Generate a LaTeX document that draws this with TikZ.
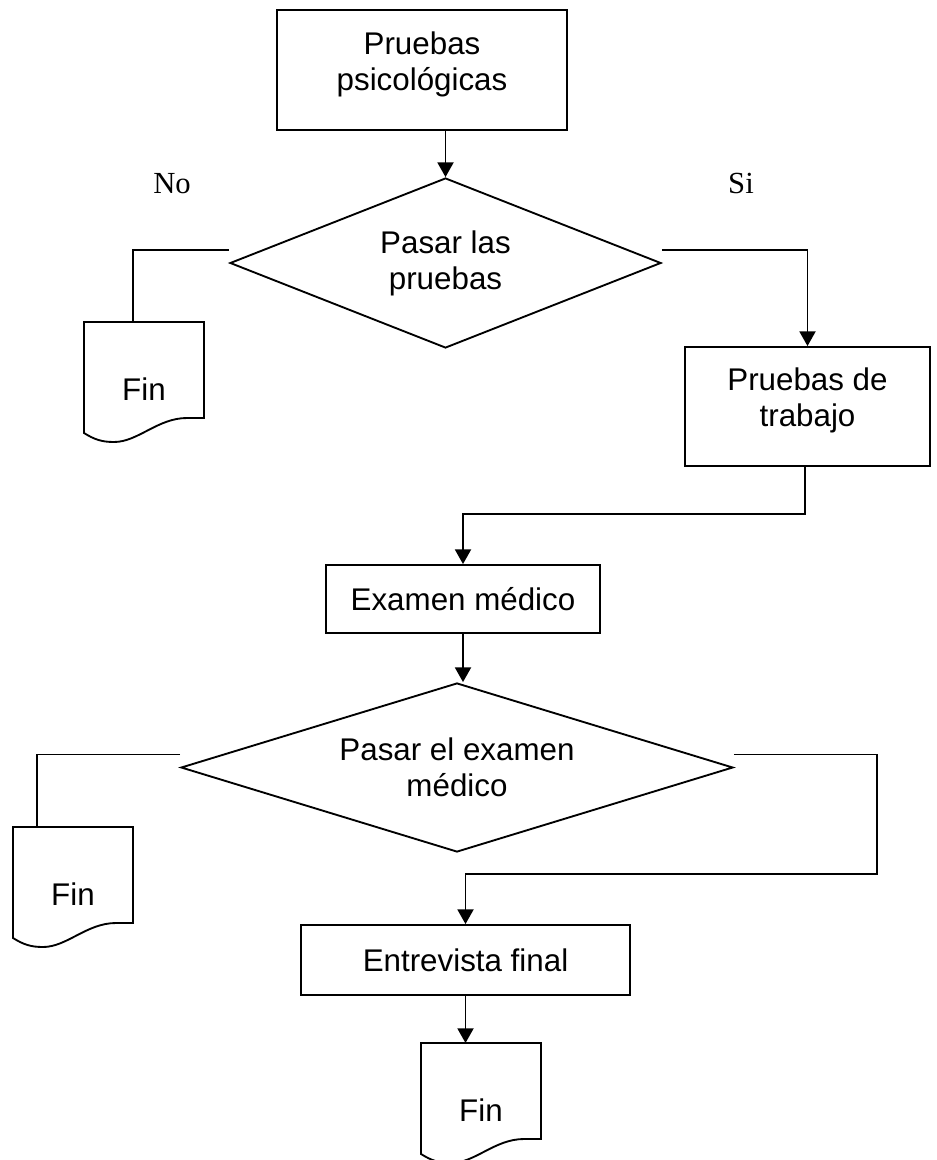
\documentclass[tikz,border=0pt]{standalone}
\usepackage{fontspec}
\setmainfont{Liberation Sans}
\newfontfamily\tnrfont{Liberation Serif}
\usetikzlibrary{arrows.meta,shapes.geometric,calc}
\newcommand\docpath[1]{\draw (#1.south east) -- (#1.north east) -- (#1.north west) -- ([yshift=-11.25pt]#1.south west) .. controls +(8pt,-5pt) and +(-9pt,0pt) .. ([shift={(22.5pt,-18pt)}]#1.south west) .. controls +(18pt,0pt) and +(-22pt,0pt) .. ([xshift=77.25pt]#1.south west) -- cycle;}
\begin{document}
\begin{tikzpicture}[x=0.75pt,y=-0.75pt, line width=1.4pt,
  every node/.style={font=\fontsize{23.5}{27}\selectfont},
  box/.style={draw, rectangle, inner sep=0pt},
  dec/.style={draw, diamond, inner sep=0pt, align=center, aspect=2.5},
  txt/.style={align=center, inner sep=0pt},
  arr/.style={-{Triangle[length=11pt,width=12pt]}},
  lbl/.style={font=\tnrfont\fontsize{23}{27}\selectfont, anchor=base, inner sep=0pt},
  docbox/.style={rectangle, minimum width=90pt, minimum height=72pt, inner sep=0pt, outer sep=0pt}]
\path[use as bounding box, fill=white] (0,0) rectangle (936,1160);
% nodes
\node[box, minimum width=217.5pt, minimum height=90pt] (b1) at (422,70) {};
\node[txt] (t1) at (422,64) {Pruebas\\psicológicas};
\node[dec, minimum width=323.25pt, minimum height=127.5pt] (d1) at (445.5,263) {Pasar las\\pruebas};
\node[lbl] (no) at (172,193) {No};
\node[lbl] (si) at (741,193) {Si};
\node[docbox] (f1) at (144,370) {};
\node[txt] (f1t) at (144,389) {Fin};
\node[box, minimum width=183.75pt, minimum height=89.25pt] (b2) at (807.5,406.5) {};
\node[txt] (t2) at (807.5,400) {Pruebas de\\trabajo};
\node[box, minimum width=205.5pt, minimum height=51pt] (b3) at (463,599) {Examen médico};
\node[dec, minimum width=414pt, minimum height=126.75pt] (d2) at (457,767.5) {Pasar el examen\\médico};
\node[docbox] (f2) at (73,875) {};
\node[txt] (f2t) at (73,894) {Fin};
\node[box, minimum width=246.75pt, minimum height=52.5pt] (b4) at (465.5,960) {Entrevista final};
\node[docbox] (f3) at (481,1091) {};
\node[txt] (f3t) at (481,1110) {Fin};
% document shapes
\docpath{f1}
\docpath{f2}
\docpath{f3}
% connectors
\coordinate (k1) at (805,514);
\coordinate (k2) at (877,874);
\draw[arr] (b1.south -| d1.north) -- (d1.north);
\draw[arr] ([yshift=9.75pt]d1.east) -| (b2.north);
\draw ([yshift=9.75pt]d1.west) -| ([xshift=36.75pt]f1.north west);
\draw[arr] (b2.south -| k1) -- (k1) -| (b3.north);
\draw[arr] (b3.south) -- (b3.south |- d2.north);
\draw ([yshift=9.75pt]d2.west) -| ([xshift=18pt]f2.north west);
\draw[arr] ([yshift=9.75pt]d2.east) -| (k2) -| (b4.north);
\draw[arr] (b4.south) -- (b4.south |- f3.north);
\end{tikzpicture}
\end{document}
